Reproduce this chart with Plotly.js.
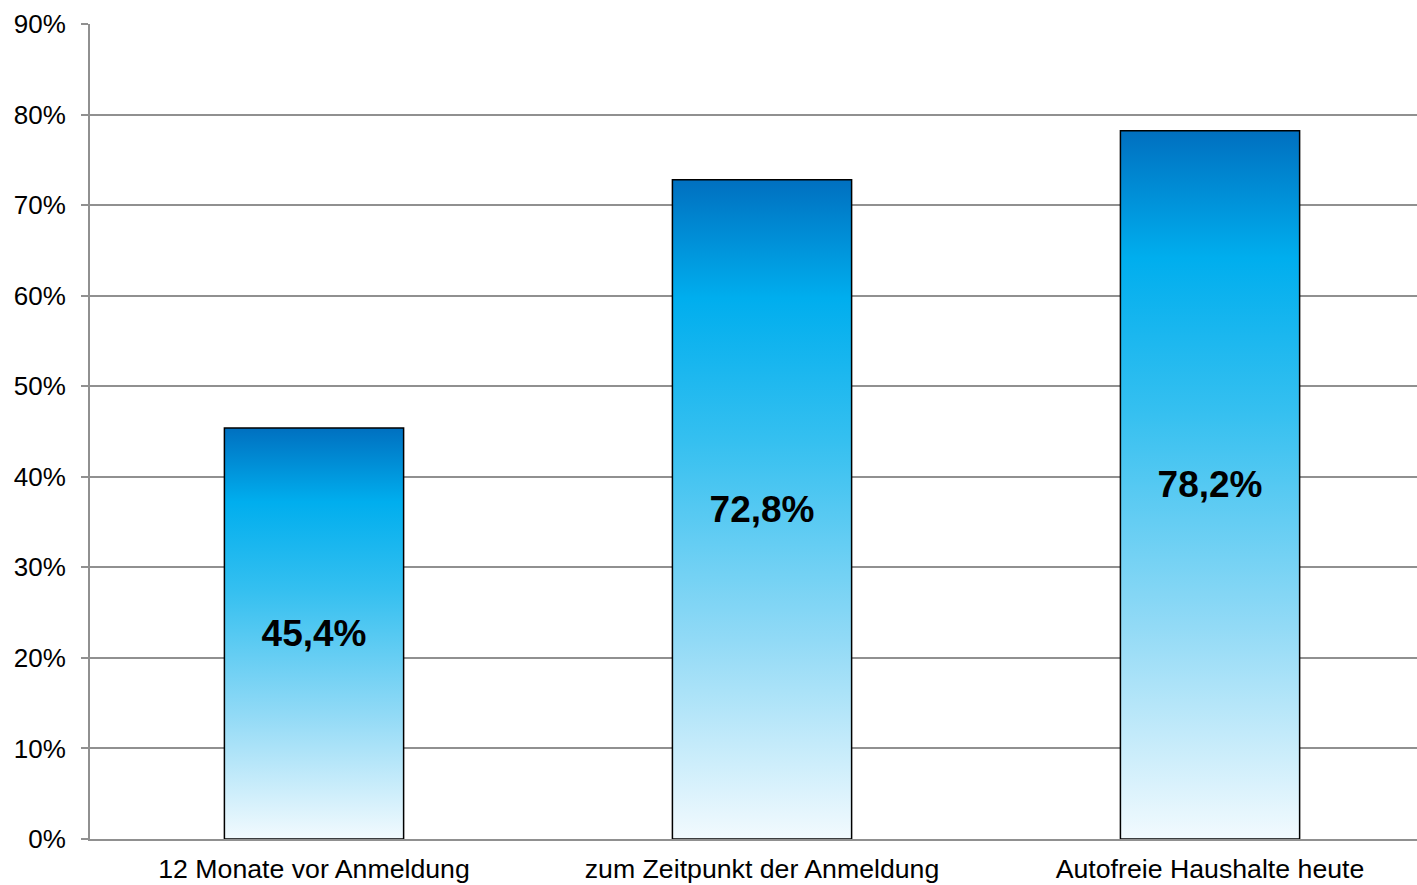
<!DOCTYPE html>
<html>
<head>
<meta charset="utf-8">
<script src="https://cdn.plot.ly/plotly-3.0.1.min.js"></script>
<style>
  html, body { margin: 0; padding: 0; background: #ffffff; }
  #chart { width: 1417px; height: 885px; }
</style>
</head>
<body>
<div id="chart"></div>
<script>
const categories = ["12 Monate vor Anmeldung", "zum Zeitpunkt der Anmeldung", "Autofreie Haushalte heute"];
const values = [45.4, 72.8, 78.2];
const yTickValues = [0, 10, 20, 30, 40, 50, 60, 70, 80, 90];
const yTickLabels = ["0%", "10%", "20%", "30%", "40%", "50%", "60%", "70%", "80%", "90%"];

const FONT = '"Liberation Sans", Arial, sans-serif';
const GRID = '#909090';

const trace = {
  type: 'bar',
  x: categories,
  y: values,
  width: 0.4,
  marker: { color: '#00B0F0', line: { color: '#000000', width: 1.5 } },
  texttemplate: '%{y:.1f}%',
  textposition: 'inside',
  insidetextanchor: 'middle',
  textangle: 0,
  constraintext: 'none',
  textfont: { family: FONT, size: 37, color: '#000000', weight: 'bold' },
  hoverinfo: 'skip',
  cliponaxis: false
};

const layout = {
  width: 1417,
  height: 885,
  margin: { l: 90, r: 0, t: 24, b: 46 },
  paper_bgcolor: '#ffffff',
  plot_bgcolor: '#ffffff',
  separators: ',.',
  showlegend: false,
  font: { family: FONT, size: 26, color: '#000000' },
  xaxis: {
    type: 'category',
    range: [-0.5, 2.462],
    showgrid: false,
    zeroline: false,
    showline: true,
    linecolor: GRID,
    linewidth: 2,
    ticks: '',
    ticklabelstandoff: 5,
    tickfont: { family: FONT, size: 26.7, color: '#000000' },
    fixedrange: true
  },
  yaxis: {
    range: [0, 90],
    tickmode: 'array',
    tickvals: yTickValues,
    ticktext: yTickLabels,
    showgrid: true,
    gridcolor: GRID,
    gridwidth: 2,
    zeroline: false,
    showline: true,
    linecolor: GRID,
    linewidth: 2,
    ticks: 'outside',
    ticklen: 7,
    tickwidth: 2,
    tickcolor: GRID,
    ticklabelstandoff: 10,
    tickfont: { family: FONT, size: 26, color: '#000000' },
    fixedrange: true
  }
};

function applyGradient(gd) {
  const svg = gd.querySelector('svg.main-svg');
  if (!svg) return;
  const ns = 'http://www.w3.org/2000/svg';
  let defs = svg.querySelector('defs');
  if (!defs) { defs = document.createElementNS(ns, 'defs'); svg.insertBefore(defs, svg.firstChild); }
  if (!svg.querySelector('#barGrad')) {
    const g = document.createElementNS(ns, 'linearGradient');
    g.setAttribute('id', 'barGrad');
    g.setAttribute('x1', '0'); g.setAttribute('y1', '0');
    g.setAttribute('x2', '0'); g.setAttribute('y2', '1');
    const stops = [
      [0.00, '#0070C0'],
      [0.18, '#00AEEE'],
      [0.40, '#36C0F0'],
      [0.70, '#92DAF6'],
      [1.00, '#F2FAFE']
    ];
    stops.forEach(([o, c]) => {
      const s = document.createElementNS(ns, 'stop');
      s.setAttribute('offset', String(o));
      s.setAttribute('stop-color', c);
      g.appendChild(s);
    });
    defs.appendChild(g);
  }
  gd.querySelectorAll('.trace.bars .point path').forEach(p => {
    p.style.fill = 'url(#barGrad)';
  });
}

const gd = document.getElementById('chart');
Plotly.newPlot(gd, [trace], layout, { displayModeBar: false, staticPlot: true }).then(() => {
  applyGradient(gd);
  gd.on('plotly_afterplot', () => applyGradient(gd));
});
</script>
</body>
</html>
